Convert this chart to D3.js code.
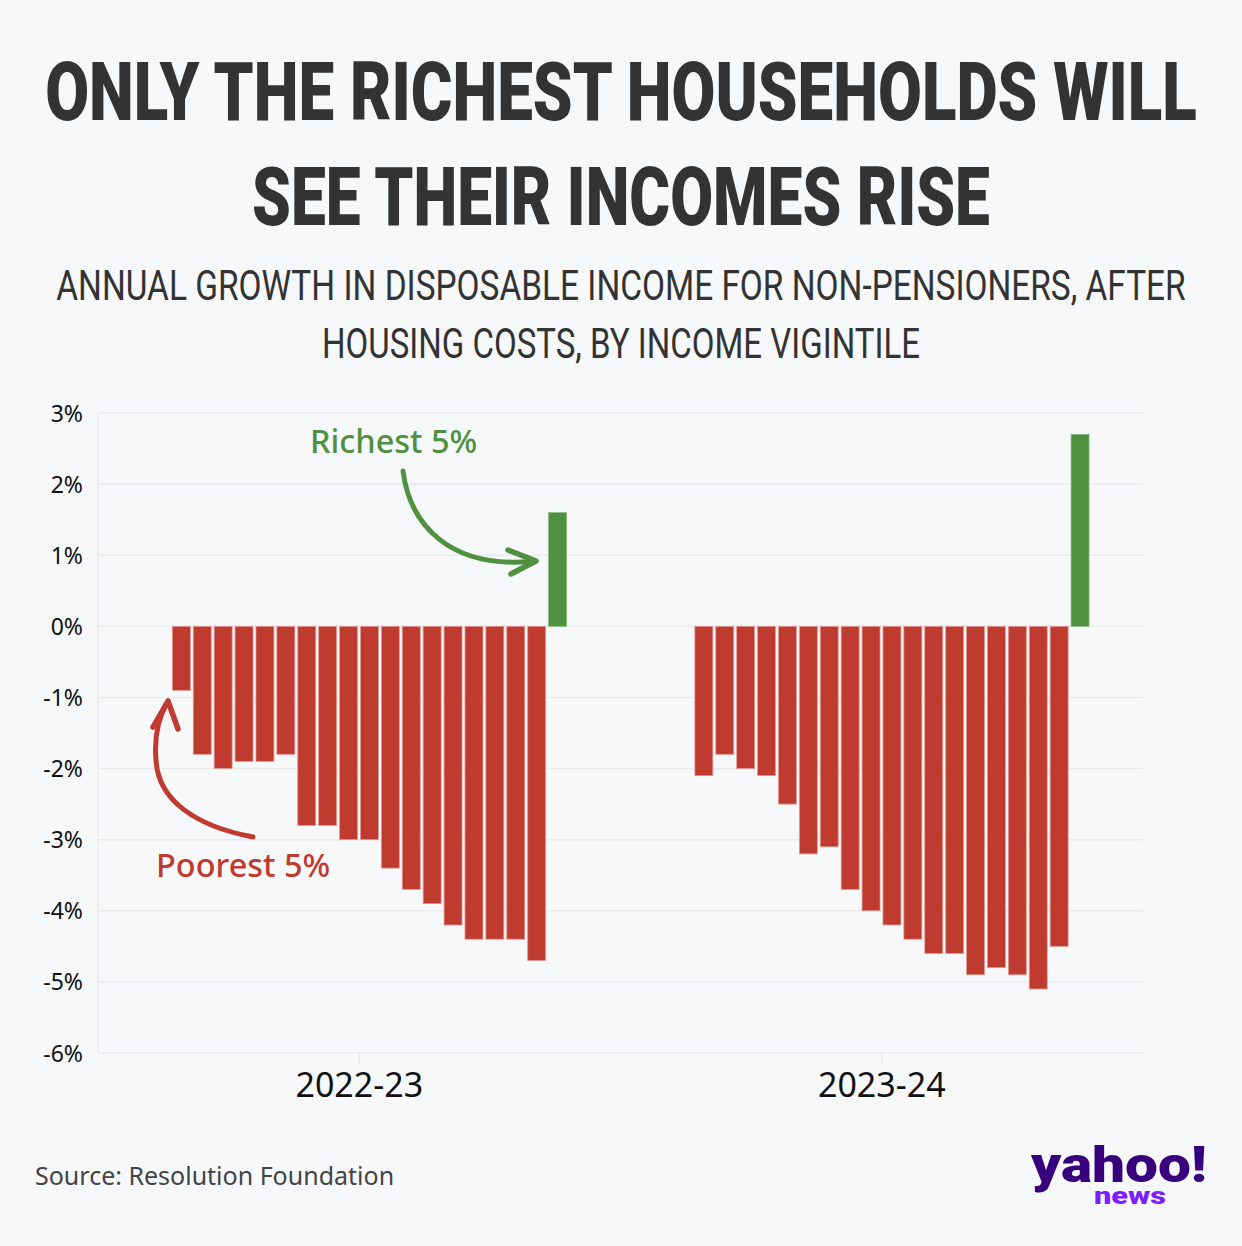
<!DOCTYPE html>
<html>
<head>
<meta charset="utf-8">
<script src="https://cdn.jsdelivr.net/npm/d3@7"></script>
<style>
  html, body { margin: 0; padding: 0; background: #f6f8fa; }
  svg { display: block; }
</style>
</head>
<body>
<svg id="chart" width="1242" height="1246"></svg>
<script>
// ---- data ----
const years = ["2022-23", "2023-24"];
const vigintiles = d3.range(1, 21);
// vigintile 1 (bottom 5%) is not shown in the source chart
const growth2022 = [null, -0.9, -1.8, -2.0, -1.9, -1.9, -1.8, -2.8, -2.8, -3.0, -3.0, -3.4, -3.7, -3.9, -4.2, -4.4, -4.4, -4.4, -4.7, 1.6];
const growth2023 = [null, -2.1, -1.8, -2.0, -2.1, -2.5, -3.2, -3.1, -3.7, -4.0, -4.2, -4.4, -4.6, -4.6, -4.9, -4.8, -4.9, -5.1, -4.5, 2.7];
const yTicks = [3, 2, 1, 0, -1, -2, -3, -4, -5, -6];

const titleLines = ["ONLY THE RICHEST HOUSEHOLDS WILL", "SEE THEIR INCOMES RISE"];
const subtitleLines = ["ANNUAL GROWTH IN DISPOSABLE INCOME FOR NON-PENSIONERS, AFTER", "HOUSING COSTS, BY INCOME VIGINTILE"];

const series = { "2022-23": growth2022, "2023-24": growth2023 };

const RED = "#bf3b30", GREEN = "#4f9140";

const svg = d3.select("#chart");
svg.append("rect").attr("width", 1242).attr("height", 1246).attr("fill", "#f6f8fa");

// helper: squeeze text horizontally to a target width (condensed look)
function fitWidth(sel, widths) {
  sel.each(function(d, i) {
    const natural = this.getComputedTextLength();
    const sx = widths[i] / natural;
    const t = d3.select(this);
    const cx = +t.attr("data-cx"), cy = +t.attr("data-cy");
    t.attr("x", 0).attr("y", 0).attr("transform", `translate(${cx},${cy}) scale(${sx},1)`);
  });
}

// ---- titles ----
const titleWidths = [1152, 738];
svg.selectAll("text.title").data(titleLines).join("text")
  .attr("class", "title")
  .attr("data-cx", 621).attr("data-cy", (d, i) => 120 + i * 105)
  .attr("text-anchor", "middle")
  .attr("font-family", "Roboto, 'Noto Sans', sans-serif")
  .attr("font-weight", 900)
  .attr("font-size", 82)
  .attr("fill", "#333333")
  .text(d => d)
  .call(fitWidth, titleWidths);

const subWidths = [1130, 598];
svg.selectAll("text.sub").data(subtitleLines).join("text")
  .attr("class", "sub")
  .attr("data-cx", 621).attr("data-cy", (d, i) => 300 + i * 58)
  .attr("text-anchor", "middle")
  .attr("font-family", "Roboto, 'Noto Sans', sans-serif")
  .attr("font-weight", 400)
  .attr("font-size", 42)
  .attr("fill", "#333333")
  .text(d => d)
  .call(fitWidth, subWidths);

// ---- scales ----
const left = 98, right = 1143;
const y = d3.scaleLinear().domain([-6, 3]).range([1053, 413]);
const x0 = d3.scaleBand().domain(years).range([left, right]).padding(0);
const x1 = d3.scaleBand().domain(vigintiles).range([52, 470]).paddingInner(0.14).paddingOuter(0.07);

// gridlines
svg.append("g").selectAll("line").data(yTicks).join("line")
  .attr("x1", left).attr("x2", right)
  .attr("y1", d => y(d)).attr("y2", d => y(d))
  .attr("stroke", "#e9eaec").attr("stroke-width", 1.5);

// y axis line
svg.append("line").attr("x1", left).attr("x2", left).attr("y1", y(3)).attr("y2", y(-6))
  .attr("stroke", "#e9eaec").attr("stroke-width", 1.5);

// y axis labels
const yAxis = d3.axisLeft(y).tickValues(yTicks).tickFormat(d => d + "%").tickSize(0).tickPadding(15);
const gy = svg.append("g").attr("transform", `translate(${left},0)`).call(yAxis);
gy.select(".domain").remove();
gy.selectAll("text")
  .attr("font-family", "'Noto Sans', sans-serif")
  .attr("font-size", 23)
  .attr("fill", "#111")
  .attr("dy", "0.35em");

// x axis
const xAxis = d3.axisBottom(x0).tickSize(10).tickPadding(10);
const gx = svg.append("g").attr("transform", `translate(0,${y(-6)})`).call(xAxis);
gx.select(".domain").remove();
gx.selectAll(".tick line").attr("stroke", "#e9eaec").attr("stroke-width", 1.5);
gx.selectAll("text")
  .attr("font-family", "'Noto Sans', sans-serif")
  .attr("font-size", 34)
  .attr("fill", "#111")
  .attr("dy", "0.71em");

// ---- bars ----
years.forEach(yr => {
  const data = vigintiles.map((v, i) => ({ v, val: series[yr][i] })).filter(d => d.val !== null);
  svg.append("g").attr("transform", `translate(${x0(yr)},0)`)
    .selectAll("rect").data(data).join("rect")
    .attr("x", d => x1(d.v))
    .attr("width", x1.bandwidth())
    .attr("y", d => y(Math.max(0, d.val)))
    .attr("height", d => Math.abs(y(d.val) - y(0)))
    .attr("fill", d => d.val >= 0 ? GREEN : RED)
    .attr("stroke", d => d.val >= 0 ? "#8cbd80" : "#e39a92")
    .attr("stroke-width", 0.8);
});

// ---- annotations ----
svg.append("text").attr("x", 310).attr("y", 453)
  .attr("font-family", "'Noto Sans', sans-serif").attr("font-weight", 500)
  .attr("font-size", 32.5).attr("fill", GREEN).text("Richest 5%");
svg.append("path")
  .attr("d", "M403,471 C410,525 450,570 535,561")
  .attr("fill", "none").attr("stroke", GREEN).attr("stroke-width", 5).attr("stroke-linecap", "round");
svg.append("path")
  .attr("d", "M508,550 L536,561 L511,574")
  .attr("fill", "none").attr("stroke", GREEN).attr("stroke-width", 5.5)
  .attr("stroke-linecap", "round").attr("stroke-linejoin", "round");

svg.append("text").attr("x", 156).attr("y", 877)
  .attr("font-family", "'Noto Sans', sans-serif").attr("font-weight", 500)
  .attr("font-size", 32.5).attr("fill", RED).text("Poorest 5%");
svg.append("path")
  .attr("d", "M253,837 C195,826 158,800 156,760 C154,735 160,715 167,703")
  .attr("fill", "none").attr("stroke", RED).attr("stroke-width", 5).attr("stroke-linecap", "round");
svg.append("path")
  .attr("d", "M153,727 L168,701 L178,729")
  .attr("fill", "none").attr("stroke", RED).attr("stroke-width", 5.5)
  .attr("stroke-linecap", "round").attr("stroke-linejoin", "round");

// ---- source ----
svg.append("text").attr("x", 35).attr("y", 1185)
  .attr("font-family", "'Noto Sans', sans-serif").attr("font-size", 25)
  .attr("fill", "#444").text("Source: Resolution Foundation");

// ---- logo (one text element, two lines) ----
const logo = svg.append("text")
  .attr("font-family", "Roboto, 'Noto Sans', sans-serif").attr("font-weight", 900);
logo.append("tspan").attr("x", 1031).attr("y", 1182)
  .attr("font-size", 50).attr("fill", "#39007e")
  .attr("textLength", 176).attr("lengthAdjust", "spacingAndGlyphs")
  .text("yahoo!");
logo.append("tspan").attr("x", 1094).attr("y", 1204)
  .attr("font-size", 24).attr("fill", "#7e1fff")
  .attr("textLength", 72).attr("lengthAdjust", "spacingAndGlyphs")
  .text("news");
</script>
</body>
</html>
